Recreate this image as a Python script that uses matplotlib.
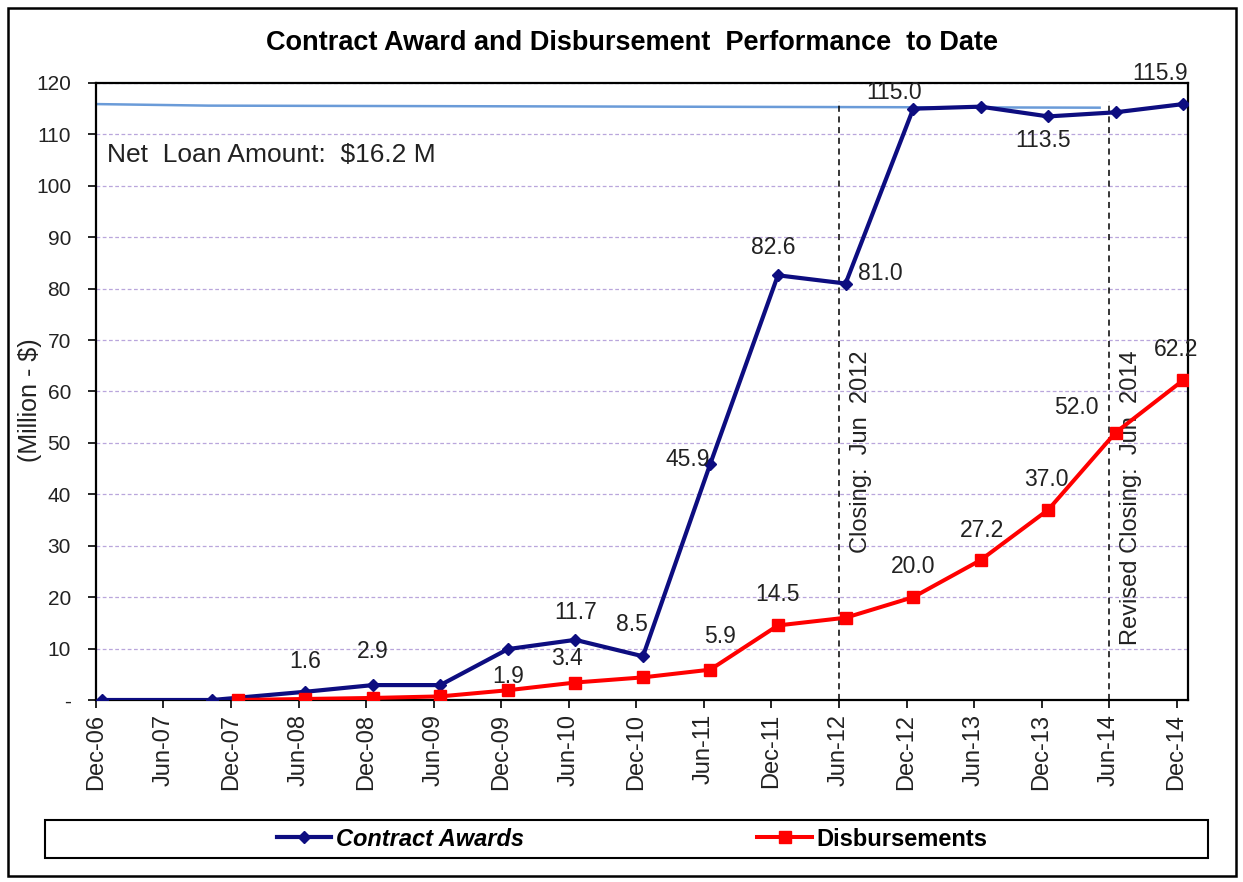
import matplotlib
matplotlib.use("Agg")
import matplotlib.pyplot as plt
import matplotlib.dates as mdates
from matplotlib import font_manager
from matplotlib.patches import Rectangle
from matplotlib.lines import Line2D
import pandas as pd

plt.rcParams['font.family'] = ['Liberation Sans', 'DejaVu Sans']
installed = {f.name for f in font_manager.fontManager.ttflist}
NARROW = "Liberation Sans Narrow" in installed

# ---------------- data ----------------
award_dates = ["2006-12-17", "2007-10-11", "2008-06-19", "2008-12-19", "2009-06-19",
               "2009-12-19", "2010-06-19", "2010-12-19", "2011-06-19", "2011-12-19",
               "2012-06-19", "2012-12-19", "2013-06-19", "2013-12-19", "2014-06-19",
               "2014-12-19"]
award_values = [0.0, 0.0, 1.6, 2.9, 2.9, 9.9, 11.7, 8.5, 45.9, 82.6, 81.0,
                115.0, 115.4, 113.5, 114.3, 115.9]

disb_dates = ["2007-12-19", "2008-06-19", "2008-12-19", "2009-06-19", "2009-12-19",
              "2010-06-19", "2010-12-19", "2011-06-19", "2011-12-19", "2012-06-19",
              "2012-12-19", "2013-06-19", "2013-12-19", "2014-06-19", "2014-12-19"]
disb_values = [0.0, 0.2, 0.4, 0.7, 1.9, 3.4, 4.4, 5.9, 14.5, 16.0, 20.0, 27.2,
               37.0, 52.0, 62.2]

net_loan_dates = ["2006-12-01", "2007-10-01", "2014-05-07"]
net_loan_values = [115.9, 115.6, 115.2]

closing_dates = ["2012-06-01", "2014-06-01"]
closing_labels = ["Closing:  Jun  2012", "Revised Closing:  Jun  2014"]

tick_dates = pd.date_range("2006-12-01", "2014-12-01", freq="6MS")
y_ticks = [0, 10, 20, 30, 40, 50, 60, 70, 80, 90, 100, 110, 120]
y_tick_labels = ["-"] + [str(v) for v in y_ticks[1:]]

# label offsets (points) for labelled points: index -> (dx, dy)
award_label_offsets = {2: (0, 22), 3: (0, 24), 6: (0, 20), 7: (-8, 23), 8: (-16, 3),
                       9: (-3, 20), 10: (25, 7), 11: (-14, 12), 13: (-4, -17),
                       15: (-17, 22)}
disb_label_offsets = {4: (0, 10), 5: (-6, 17), 7: (7, 24), 8: (0, 22), 10: (0, 22),
                      11: (1, 21), 12: (-1, 22), 13: (-28, 18), 14: (-5, 22)}

# ---------------- figure ----------------
W, H = 1243, 882
fig = plt.figure(figsize=(W / 100, H / 100), dpi=100)
ax = fig.add_axes([96 / W, 1 - 700 / H, (1188 - 96) / W, (700 - 83) / H])

ad = pd.to_datetime(award_dates)
dd = pd.to_datetime(disb_dates)

navy = "#0d0d80"
red = "#ff0000"
txt = "#222222"

ax.plot(pd.to_datetime(net_loan_dates), net_loan_values, color="#6a9bd8", lw=1.8, zorder=2)
ax.plot(ad, award_values, color=navy, lw=3.0, marker="D", ms=6, zorder=3,
        label="Contract Awards")
ax.plot(dd, disb_values, color=red, lw=2.9, marker="s", ms=8.5, zorder=4,
        label="Disbursements")

for d in closing_dates:
    ax.plot([pd.Timestamp(d)] * 2, [0, 116.5], color="black", lw=1.1,
            ls=(0, (4, 3)), zorder=2)

text_kw = dict(fontsize=16.5, color=txt, ha="center", va="center", zorder=5)
for i, off in award_label_offsets.items():
    ax.annotate(f"{award_values[i]:.1f}", (ad[i], award_values[i]),
                xytext=off, textcoords="offset points", **text_kw)
for i, off in disb_label_offsets.items():
    ax.annotate(f"{disb_values[i]:.1f}", (dd[i], disb_values[i]),
                xytext=off, textcoords="offset points", **text_kw)

for d, lab in zip(closing_dates, closing_labels):
    ax.annotate(lab, (pd.Timestamp(d), 68), xytext=(8, 0), textcoords="offset points",
                rotation=90, ha="left", va="top", fontsize=17, color=txt)

ax.text(pd.Timestamp("2007-01-01"), 106, "Net  Loan Amount:  $16.2 M", fontsize=19,
        ha="left", va="center", color=txt)

ax.set_xlim(pd.Timestamp("2006-12-01"), pd.Timestamp("2015-01-01"))
ax.set_ylim(0, 120)
ax.set_yticks(y_ticks)
ax.set_yticklabels(y_tick_labels, fontsize=15, color=txt)
ax.set_xticks(tick_dates)
ax.xaxis.set_major_formatter(mdates.DateFormatter("%b-%y"))
plt.setp(ax.get_xticklabels(), rotation=90, fontsize=17, color=txt)
ax.tick_params(axis="both", direction="out", length=6, width=1.2, colors="black")
ax.tick_params(axis="y", pad=12, labelcolor=txt)
ax.tick_params(axis="x", pad=4, labelcolor=txt)
ax.grid(axis="y", color="#b9a6dc", ls=(0, (3, 2)), lw=0.9)
ax.set_axisbelow(True)
for s in ax.spines.values():
    s.set_color("black")
    s.set_linewidth(1.6)

fig.text(30 / W, 1 - 400 / H, "(Million - $)", rotation=90, fontsize=18,
         ha="center", va="center", color=txt)
if NARROW:
    fig.text(632 / W, 1 - 43 / H, "Contract Award and Disbursement  Performance  to Date",
             fontsize=23.5, fontweight="bold", ha="center", va="center",
             family=["Liberation Sans Narrow", "Liberation Sans"])
else:
    fig.text(632 / W, 1 - 43 / H, "Contract Award and Disbursement  Performance  to Date",
             fontsize=19.5, fontweight="bold", ha="center", va="center")

# legend box
fig.patches.append(Rectangle((45 / W, 1 - 858 / H), (1208 - 45) / W, (858 - 820) / H,
                             transform=fig.transFigure, fill=False, ec="black", lw=1.5))
leg = fig.legend(handles=[Line2D([], [], color=navy, lw=3.0, marker="D", ms=6),
                          Line2D([], [], color=red, lw=2.9, marker="s", ms=8.5)],
                 labels=["Contract Awards", "Disbursements"], ncol=2,
                 loc="center", bbox_to_anchor=(632 / W, 1 - 839 / H), frameon=False,
                 handlelength=2.3, columnspacing=9.9, handletextpad=0.2,
                 prop={"weight": "bold", "size": 17})
leg.get_texts()[0].set_fontstyle("italic")

# outer border
fig.patches.append(Rectangle((8 / W, 1 - 876 / H), (1236 - 8) / W, (876 - 8) / H,
                             transform=fig.transFigure, fill=False, ec="black", lw=1.8))

fig.savefig("out.png", dpi=100)
